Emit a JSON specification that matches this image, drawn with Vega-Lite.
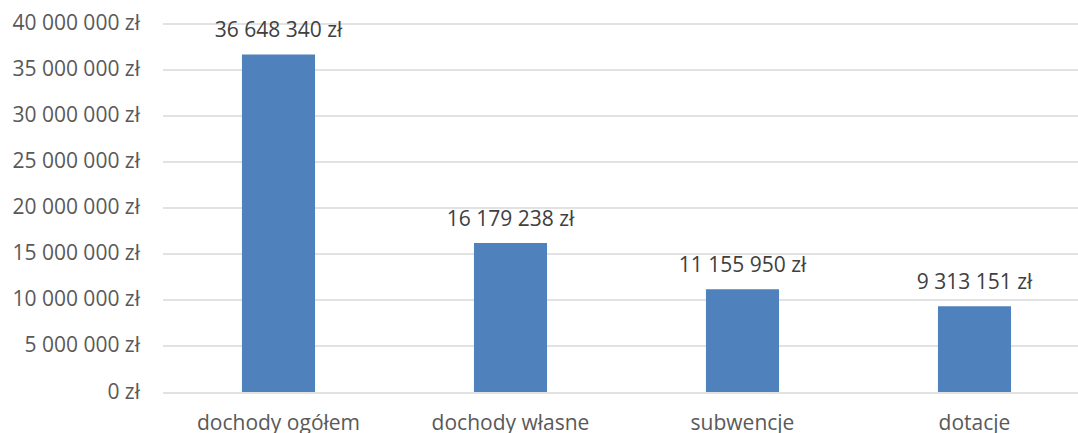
{
  "$schema": "https://vega.github.io/schema/vega-lite/v6.json",
  "autosize": "none",
  "width": 916,
  "height": 368.5,
  "padding": {"left": 162.5, "top": 23.5, "right": 0, "bottom": 41},
  "background": "white",
  "config": {
    "locale": {"number": {"decimal": ",", "thousands": " ", "grouping": [3], "currency": ["", " zł"]}},
    "view": {"stroke": null},
    "font": "Open Sans"
  },
  "data": {"values": [
    {"kategoria": "dochody ogółem", "kwota": 36648340},
    {"kategoria": "dochody własne", "kwota": 16179238},
    {"kategoria": "subwencje", "kwota": 11155950},
    {"kategoria": "dotacje", "kwota": 9313151}
  ]},
  "encoding": {
    "x": {"field": "kategoria", "type": "nominal", "sort": null,
      "scale": {"range": [0, 928], "paddingInner": 0.685, "paddingOuter": 0.3425},
      "axis": {"title": null, "labelAngle": 0, "domain": false, "ticks": false, "labelPadding": 20,
        "labelFont": "Open Sans", "labelFontSize": 21, "labelColor": "#595959"}},
    "y": {"field": "kwota", "type": "quantitative",
      "scale": {"domain": [0, 40000000], "nice": false},
      "axis": {"title": null, "values": [0,5000000,10000000,15000000,20000000,25000000,30000000,35000000,40000000],
        "format": "$,.0f", "domain": false, "ticks": false, "labelPadding": 23, "labelOverlap": false,
        "labelFont": "Open Sans", "labelFontSize": 21, "labelColor": "#595959",
        "gridColor": "#D9D9D9", "gridWidth": 1.5}}
  },
  "layer": [
    {"mark": {"type": "bar", "color": "#4F81BD"}},
    {"mark": {"type": "text", "baseline": "alphabetic", "dy": -17, "font": "Open Sans", "fontSize": 21, "color": "#404040"},
      "encoding": {"text": {"field": "kwota", "type": "quantitative", "format": "$,.0f"}}}
  ]
}
